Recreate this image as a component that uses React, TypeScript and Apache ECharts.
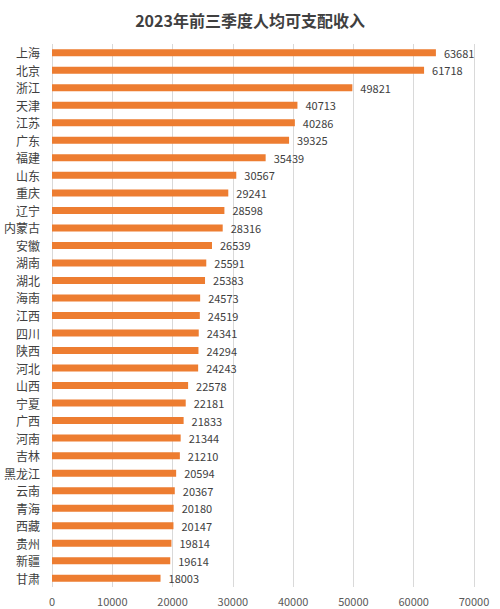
import React, { useEffect, useRef } from "react";
import * as echarts from "echarts";

const provinces = ["上海","北京","浙江","天津","江苏","广东","福建","山东","重庆","辽宁","内蒙古","安徽","湖南","湖北","海南","江西","四川","陕西","河北","山西","宁夏","广西","河南","吉林","黑龙江","云南","青海","西藏","贵州","新疆","甘肃"];
const income = [63681,61718,49821,40713,40286,39325,35439,30567,29241,28598,28316,26539,25591,25383,24573,24519,24341,24294,24243,22578,22181,21833,21344,21210,20594,20367,20180,20147,19814,19614,18003];
const xTicks = { min: 0, max: 70000, interval: 10000 };

export default function App() {
  const ref = useRef<HTMLDivElement>(null);
  useEffect(() => {
    const chart = echarts.init(ref.current!, null, { renderer: "svg" });
    chart.setOption({
      animation: false,
      backgroundColor: "#ffffff",
      title: {
        text: "2023年前三季度人均可支配收入",
        left: "center",
        top: 7,
        textStyle: { fontSize: 16, fontWeight: "bold", color: "#404040", fontFamily: "Noto Sans CJK SC" },
      },
      grid: { left: 52, right: 26, top: 44, bottom: 22, containLabel: false },
      xAxis: {
        type: "value",
        min: xTicks.min,
        max: xTicks.max,
        interval: xTicks.interval,
        axisLine: { show: false },
        axisTick: { show: false },
        axisLabel: {
          color: "#595959",
          fontSize: 11,
          margin: 8,
          fontFamily: "Noto Sans CJK SC",
          formatter: (v: number) => String(v),
        },
        splitLine: { show: true, lineStyle: { color: "#d9d9d9", width: 1 } },
      },
      yAxis: {
        type: "category",
        data: provinces,
        inverse: true,
        axisLine: { show: false },
        axisTick: { show: false },
        axisLabel: { color: "#404040", fontSize: 12, margin: 12, fontFamily: "Noto Sans CJK SC" },
      },
      series: [
        {
          type: "bar",
          data: income,
          barWidth: 7,
          itemStyle: { color: "#ED7D31" },
          label: {
            show: true,
            position: "right",
            distance: 8,
            color: "#404040",
            fontSize: 11,
            fontFamily: "Noto Sans CJK SC",
          },
        },
      ],
    });
    return () => chart.dispose();
  }, []);
  return <div ref={ref} style={{ width: 500, height: 609, position: "absolute", left: 0, top: 0 }} />;
}
